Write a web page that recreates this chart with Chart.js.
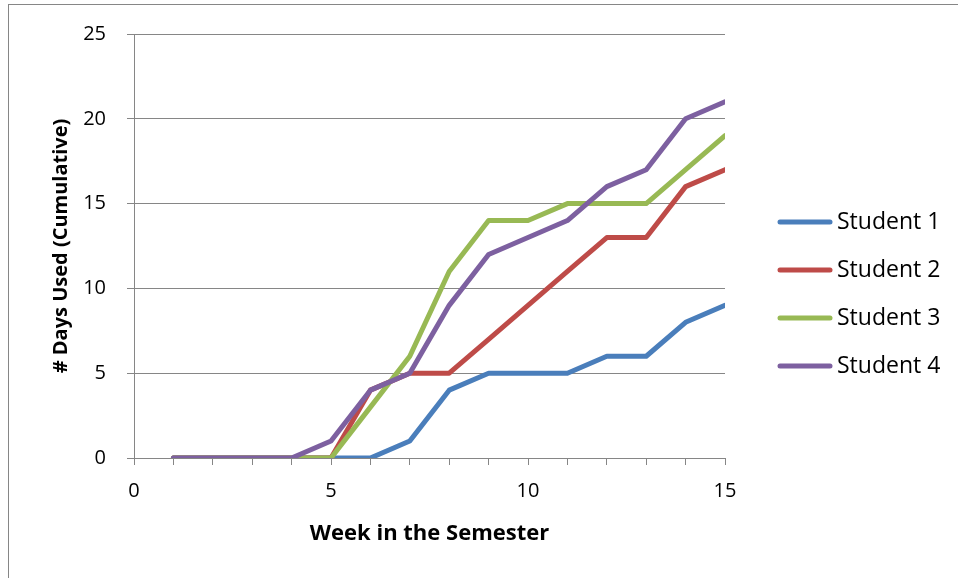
<!DOCTYPE html>
<html>
<head>
<meta charset="utf-8">
<title># Days Used (Cumulative)</title>
<script src="https://cdn.jsdelivr.net/npm/chart.js@4"></script>
<style>
  html, body { margin: 0; padding: 0; background: #fff; }
  #frame {
    position: absolute; left: 8px; top: 4px; width: 950px; height: 574px;
    border-left: 1px solid #868686; border-top: 1px solid #868686; box-sizing: border-box;
  }
  #chart { display: block; }
</style>
</head>
<body>
<div id="frame"><canvas id="chart" width="949" height="573"></canvas></div>
<script>
// weeks in the semester, x values
const weeks = [1, 2, 3, 4, 5, 6, 7, 8, 9, 10, 11, 12, 13, 14, 15];

// cumulative days used, one array per student
const student1 = [0, 0, 0, 0, 0, 0, 1, 4, 5, 5, 5, 6, 6, 8, 9];
const student2 = [0, 0, 0, 0, 0, 4, 5, 5, 7, 9, 11, 13, 13, 16, 17];
const student3 = [0, 0, 0, 0, 0, 3, 6, 11, 14, 14, 15, 15, 15, 17, 19];
const student4 = [0, 0, 0, 0, 1, 4, 5, 9, 12, 13, 14, 16, 17, 20, 21];

const seriesNames = ['Student 1', 'Student 2', 'Student 3', 'Student 4'];
const seriesValues = [student1, student2, student3, student4];
const seriesColors = ['#4A7EBB', '#BE4B48', '#98B954', '#7D60A0'];

const xTickLabels = [0, 5, 10, 15];

const GRAY = '#868686';
const FONT = '"Open Sans", sans-serif';

const datasets = seriesNames.map((name, i) => ({
    label: name,
    data: weeks.map((w, j) => ({ x: w, y: seriesValues[i][j] })),
    borderColor: seriesColors[i],
    backgroundColor: seriesColors[i],
    borderWidth: 5,
    borderCapStyle: 'round',
    borderJoinStyle: 'round',
    pointRadius: 0,
    tension: 0,
    // later students drawn on top, like the original
    order: seriesNames.length - 1 - i
}));

// Legend to the right of the plot, Excel style: line sample then label.
// The built-in legend ties row spacing to its inner padding, so draw it here.
const sideLegend = {
    id: 'sideLegend',
    afterDraw(chart) {
        const { ctx, chartArea } = chart;
        const x0 = chartArea.right + 55;
        ctx.save();
        ctx.font = '23px ' + FONT;
        ctx.textBaseline = 'middle';
        ctx.textAlign = 'left';
        chart.data.datasets.forEach((ds, i) => {
            const y = 217 + i * 48;
            ctx.strokeStyle = ds.borderColor;
            ctx.lineWidth = ds.borderWidth;
            ctx.lineCap = 'round';
            ctx.beginPath();
            ctx.moveTo(x0, y);
            ctx.lineTo(x0 + 50, y);
            ctx.stroke();
            ctx.fillStyle = '#000';
            ctx.fillText(ds.label, x0 + 57, y);
        });
        ctx.restore();
    }
};

new Chart(document.getElementById('chart'), {
    type: 'line',
    data: { datasets },
    plugins: [sideLegend],
    options: {
        responsive: false,
        animation: false,
        layout: { padding: { left: 0, top: 29, right: 233, bottom: 0 } },
        plugins: {
            legend: { display: false },
            tooltip: { enabled: false }
        },
        scales: {
            x: {
                type: 'linear',
                min: 0,
                max: 15,
                afterFit: s => { s.height = 120; },
                ticks: {
                    stepSize: 1,
                    autoSkip: false,
                    maxRotation: 0,
                    padding: 14,
                    color: '#000',
                    font: { family: FONT, size: 20 },
                    callback: v => xTickLabels.includes(v) ? String(v) : ''
                },
                grid: { drawOnChartArea: false, drawTicks: true, tickLength: 7, color: GRAY },
                border: { color: GRAY },
                title: {
                    display: true,
                    text: 'Week in the Semester',
                    color: '#000',
                    font: { family: FONT, size: 22, weight: 'bold' },
                    padding: { top: 0, bottom: 31 }
                }
            },
            y: {
                min: 0,
                max: 25,
                // fixed width; tick padding would otherwise also push the top down
                afterFit: s => { s.width = 125; s.paddingTop = 0; },
                ticks: {
                    stepSize: 5,
                    padding: 21,
                    color: '#000',
                    font: { family: FONT, size: 20 }
                },
                grid: { color: GRAY, tickLength: 7 },
                border: { color: GRAY },
                title: {
                    display: true,
                    text: '# Days Used (Cumulative)',
                    color: '#000',
                    font: { family: FONT, size: 20, weight: 'bold' },
                    padding: { top: 40, bottom: 0 }
                }
            }
        }
    }
});
</script>
</body>
</html>
